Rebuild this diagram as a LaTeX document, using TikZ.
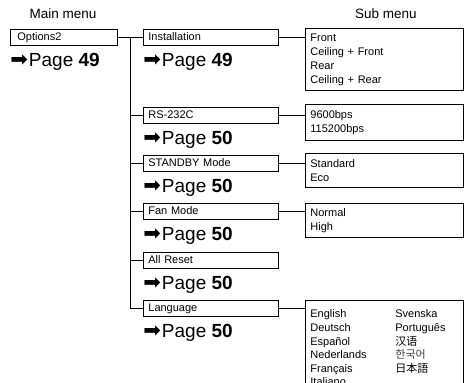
\documentclass[tikz,border=0pt]{standalone}
\usepackage{fontspec}
\setmainfont{Liberation Sans}
\newfontfamily\symfont{DejaVu Sans}
\newfontfamily\scfont{Noto Sans CJK SC}
\newfontfamily\krfont{Noto Sans CJK KR}
\newfontfamily\jpfont{Noto Sans CJK JP}
\usetikzlibrary{positioning}
\newcommand{\gopage}[1]{{\symfont\fontsize{21}{21}\selectfont ➡}\kern1pt Page \textbf{#1}}
\newcommand{\lang}[2]{\makebox[85pt][l]{#1}{#2}}

\begin{document}
\begin{tikzpicture}[
    x=1pt, y=-1pt,
    line width=0.8pt,
    menubox/.style={draw, anchor=north west, minimum height=16pt,
                    inner xsep=5pt, inner ysep=0pt, text height=8pt, text depth=2.5pt,
                    font=\fontsize{11}{14}\selectfont, text width=125pt, align=left},
    subbox/.style={draw, anchor=north west, inner xsep=5pt, inner ysep=5pt,
                   font=\fontsize{11}{14}\selectfont, text width=148pt, align=left},
    pagelbl/.style={inner sep=0pt, font=\fontsize{19}{20}\selectfont},
    title/.style={font=\fontsize{13.5}{15}\selectfont},
]
\useasboundingbox (0,0) rectangle (469,383);
\clip (0,0) rectangle (469,383);
% headings
\node[title] (mainttl) at (63,14) {Main menu};
\node[title] (subttl) at (386,14) {Sub menu};
% main menu entry
\node[menubox, text width=93pt, inner xsep=7pt] (opt) at (10,29) {Options2};
\node[pagelbl, below right=7pt and 0pt of opt.south west] (optpg) {\gopage{49}};
% middle column
\node[menubox] (inst) at (143,29) {Installation};
\node[pagelbl, below right=7pt and 0pt of inst.south west] (instpg) {\gopage{49}};
\node[menubox] (rs) at (143,107) {RS-232C};
\node[pagelbl, below right=7pt and 0pt of rs.south west] (rspg) {\gopage{50}};
\node[menubox] (stby) at (143,155) {STANDBY Mode};
\node[pagelbl, below right=7pt and 0pt of stby.south west] (stbypg) {\gopage{50}};
\node[menubox] (fan) at (143,203) {Fan Mode};
\node[pagelbl, below right=7pt and 0pt of fan.south west] (fanpg) {\gopage{50}};
\node[menubox] (reset) at (143,252) {All Reset};
\node[pagelbl, below right=7pt and 0pt of reset.south west] (resetpg) {\gopage{50}};
\node[menubox] (language) at (143,300) {Language};
\node[pagelbl, below right=7pt and 0pt of language.south west] (languagepg) {\gopage{50}};
% sub menus
\node[subbox, minimum height=62pt] (instsub) at (305,28)
    {Front\\ Ceiling + Front\\ Rear\\ Ceiling + Rear};
\node[subbox, minimum height=36pt] (rssub) at (305,104) {9600bps\\ 115200bps};
\node[subbox, minimum height=34pt] (stbysub) at (305,153) {Standard\\ Eco};
\node[subbox, minimum height=32pt] (fansub) at (305,203) {Normal\\ High};
\node[subbox, minimum height=95pt, font=\fontsize{11}{13.6}\selectfont] (languagesub) at (305,300)
    {\lang{English}{Svenska}\\ \lang{Deutsch}{Português}\\ \lang{Español}{\scfont 汉语}\\
     \lang{Nederlands}{\krfont\color{black!75}한국어}\\ \lang{Français}{\jpfont 日本語}\\ Italiano};
% tree lines
\coordinate (trunk) at (130,37);
\draw (opt.east) -- (inst.west);
\draw (inst.west -| trunk) -- (language.west -| trunk) -- (language.west);
\foreach \n in {rs, stby, fan, reset}
  \draw (\n.west) -- (\n.west -| trunk);
\foreach \n in {inst, rs, stby, fan, language}
  \draw (\n.east) -- (\n.east -| \n sub.west);
\end{tikzpicture}
\end{document}
